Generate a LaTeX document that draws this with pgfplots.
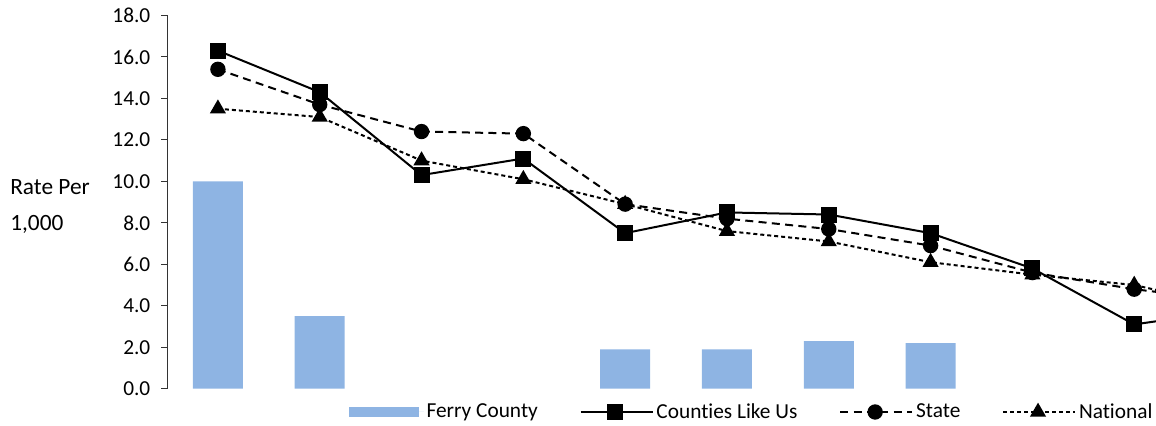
\documentclass[border=0pt]{standalone}
\usepackage{pgfplots}
\pgfplotsset{compat=1.18}
\usepackage{fontspec}
\setmainfont{Carlito}[Ligatures=NoCommon]
\definecolor{barblue}{RGB}{142,180,227}
\begin{document}
\begin{tikzpicture}
\useasboundingbox (0,0) rectangle (867pt,318.75pt);
\clip (0,0) rectangle (867pt,318.75pt);
\begin{axis}[
  at={(125.25pt,27.2pt)}, anchor=south west,
  scale only axis, width=741.75pt, height=280pt,
  xmin=-0.5, xmax=9.214, ymin=0, ymax=18,
  axis x line=none, axis y line*=left,
  ytick={0,2,...,18},
  yticklabel style={xshift=-4.5pt, /pgf/number format/.cd, fixed, fixed zerofill, precision=1, assume math mode=true},
  tick align=outside, major tick length=4.5pt,
  y axis line style={line width=0.75pt, black!80},
  ytick style={line width=0.75pt, black!80},
  font=\fontsize{16}{19.2}\selectfont,
  ylabel={Rate Per\\[6pt]1,000},
  ylabel style={rotate=-90, align=left, anchor=west, inner sep=0pt, at={(-0.1587,0.489)}, font=\fontsize{17.5}{21}\selectfont},
  legend columns=4,
  legend style={at={(0.184,-0.0623)}, anchor=west, draw=none, fill=none, inner sep=0pt,
    font=\fontsize{16}{19.2}\selectfont,
    /tikz/every even column/.append style={column sep=29.5pt}},
  legend image code/.code={\draw[#1, mark indices={2}] plot coordinates {(0pt,0pt) (26pt,0pt) (52pt,0pt)};
    \path (0pt,0pt) -- (54pt,0pt);},
]
\addplot[ybar, bar width=37.5pt, fill=barblue, draw=none,
  legend image code/.code={\fill[barblue] (0pt,-3.75pt) rectangle (52pt,3.75pt); \path (0pt,0pt) -- (56pt,0pt);}]
  coordinates {(0,10.0) (1,3.5) (4,1.9) (5,1.9) (6,2.3) (7,2.2)};
\addlegendentry{Ferry County}
\addplot[black, line width=1.5pt, mark=square*, mark size=5.25pt, mark options={solid},
  mark indices={1,2,3,4,5,6,7,8,9,10}]
  coordinates {(0,16.3) (1,14.3) (2,10.3) (3,11.1) (4,7.5) (5,8.5) (6,8.4) (7,7.5) (8,5.8) (9,3.1) (10,3.8)};
\addlegendentry{Counties Like Us}
\addplot[black, line width=1.5pt, dash pattern=on 6pt off 4pt, mark=*, mark size=5pt, mark options={solid},
  mark indices={1,2,3,4,5,6,7,8,9,10}]
  coordinates {(0,15.4) (1,13.7) (2,12.4) (3,12.3) (4,8.9) (5,8.2) (6,7.7) (7,6.9) (8,5.6) (9,4.8) (10,4.2)};
\addlegendentry{State}
\addplot[black, line width=1.5pt, dash pattern=on 3pt off 2.25pt, mark=triangle*, mark size=5.5pt, mark options={solid},
  mark indices={1,2,3,4,5,6,7,8,9,10}]
  coordinates {(0,13.5) (1,13.1) (2,11.0) (3,10.1) (4,8.9) (5,7.6) (6,7.1) (7,6.1) (8,5.5) (9,5.0) (10,3.9)};
\addlegendentry{National}
\end{axis}
\end{tikzpicture}
\end{document}
